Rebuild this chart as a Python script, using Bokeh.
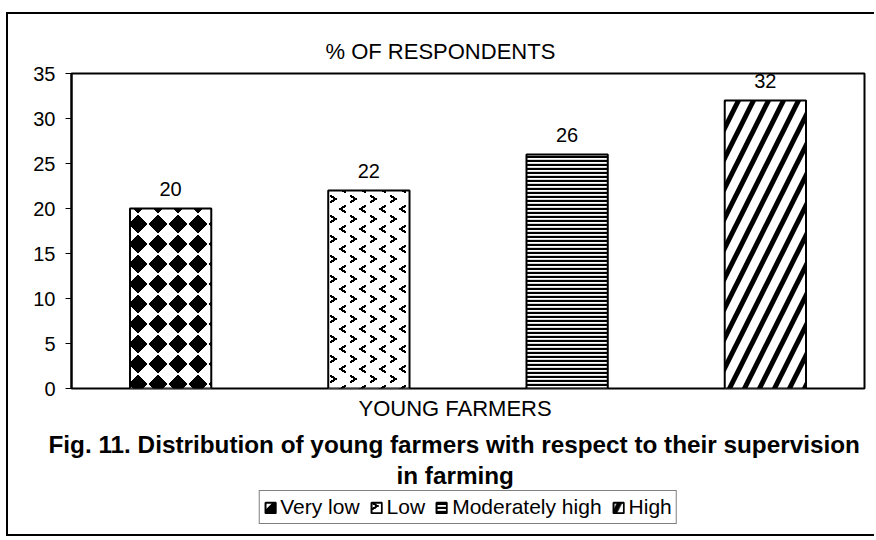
import struct, zlib, base64
from bokeh.plotting import figure
from bokeh.layouts import column
from bokeh.models import (ColumnDataSource, FactorRange, Range1d, Title, Legend,
                          LegendItem, LabelSet, ImageURLTexture, FixedTicker)
from bokeh.embed import file_html
from bokeh.resources import INLINE
from bokeh.core.properties import value

# ---- data ----
categories = ["Very low", "Low", "Moderately high", "High"]
percent = [20, 22, 26, 32]
value_labels = ["20", "22", "26", "32"]
y_ticks = [0, 5, 10, 15, 20, 25, 30, 35]

title_text = "% OF RESPONDENTS"
x_title = "YOUNG FARMERS"
caption1 = "Fig. 11. Distribution of young farmers with respect to their supervision"
caption2 = "in farming"

# ---- fill pattern tiles (style only) ----
def png_uri(size, is_black):
    raw = b""
    for y in range(size):
        row = b"\x00"
        for x in range(size):
            row += bytes((0, 0, 0, 255)) if is_black(x + 0.5, y + 0.5) else bytes((255, 255, 255, 255))
        raw += row
    def chunk(tag, data):
        return (struct.pack(">I", len(data)) + tag + data +
                struct.pack(">I", zlib.crc32(tag + data) & 0xffffffff))
    png = (b"\x89PNG\r\n\x1a\n" +
           chunk(b"IHDR", struct.pack(">IIBBBBB", size, size, 8, 6, 0, 0, 0)) +
           chunk(b"IDAT", zlib.compress(raw)) + chunk(b"IEND", b""))
    return "data:image/png;base64," + base64.b64encode(png).decode()

def seg_dist(px, py, ax, ay, bx, by):
    dx, dy = bx - ax, by - ay
    t = max(0.0, min(1.0, ((px - ax) * dx + (py - ay) * dy) / (dx * dx + dy * dy)))
    qx, qy = ax + t * dx, ay + t * dy
    return ((px - qx) ** 2 + (py - qy) ** 2) ** 0.5

def diamond(x, y):
    return abs(x - 10) + abs(y - 10) <= 9.4

def chevrons(x, y):
    segs = [(3, 2, 7.5, 5), (7.5, 5, 3, 8),          # ">"
            (17, 12, 12.5, 15), (12.5, 15, 17, 18)]  # "<"
    return any(seg_dist(x, y, *s) <= 1.15 for s in segs)

tex_diamond = ImageURLTexture(url=png_uri(20, diamond))
tex_chevron = ImageURLTexture(url=png_uri(20, chevrons))

patterns = ["diamond_check", "chevrons", "horizontal_line", "right_diagonal_line"]
pat_scales = [20, 20, 4, 30]
pat_weights = [1, 1, 2.3, 5]

src = ColumnDataSource(dict(x=categories, top=percent, label=value_labels,
                            pattern=patterns, hscale=pat_scales, hweight=pat_weights))

FONT = "Liberation Sans"
bar_style = dict(fill_color="white", line_color="black", line_width=2,
                 hatch_pattern="pattern", hatch_scale="hscale", hatch_weight="hweight",
                 hatch_color="black",
                 hatch_extra={"diamond_check": tex_diamond, "chevrons": tex_chevron})

W = 866

# ---- main chart ----
p = figure(x_range=FactorRange(*categories), y_range=Range1d(0, 35),
           width=W, height=476, output_backend="svg", toolbar_location=None,
           min_border_left=63, min_border_right=10, min_border_top=59,
           min_border_bottom=102)

p.outline_line_color = "black"
p.outline_line_width = 2
p.xgrid.visible = False
p.ygrid.visible = False
p.xaxis.visible = False

yax = p.yaxis[0]
yax.ticker = FixedTicker(ticks=y_ticks)
yax.major_label_text_font = FONT
yax.major_label_text_font_size = "20px"
yax.major_label_text_color = "black"
yax.axis_line_color = "black"
yax.axis_line_width = 2
yax.major_tick_line_color = "black"
yax.major_tick_line_width = 1
yax.major_tick_out = 6
yax.major_tick_in = 0
yax.minor_tick_line_color = None
yax.major_label_standoff = 10

p.vbar(x="x", top="top", width=0.41, source=src, **bar_style)

labels = LabelSet(x="x", y="top", text="label", source=src,
                  text_align="center", text_baseline="bottom", y_offset=13,
                  text_font=value(FONT), text_font_size=value("20px"),
                  text_color="black")
p.add_layout(labels)

p.add_layout(Title(text=title_text, align="left", offset=254,
                   text_font=FONT, text_font_size="22px", text_color="black",
                   text_font_style="normal", standoff=19), "above")

p.add_layout(Title(text=x_title, align="left", offset=287,
                   text_font=FONT, text_font_size="22px", text_color="black",
                   text_font_style="normal", standoff=11), "below")
p.add_layout(Title(text=caption1, align="left", offset=-23,
                   text_font=FONT, text_font_size="24.3px", text_color="black",
                   text_font_style="bold", standoff=4), "below")
p.add_layout(Title(text=caption2, align="left", offset=325,
                   text_font=FONT, text_font_size="24.3px", text_color="black",
                   text_font_style="bold", standoff=0), "below")

# ---- legend strip (same bars as rect glyphs, kept outside its visible range) ----
p2 = figure(x_range=p.x_range, y_range=Range1d(1000, 1001),
            width=W, height=44, output_backend="svg", toolbar_location=None,
            min_border_left=0, min_border_right=0, min_border_top=0,
            min_border_bottom=0)
p2.axis.visible = False
p2.grid.visible = False
p2.outline_line_color = None
r2 = p2.rect(x="x", y="top", width=0.41, height="top", source=src, **bar_style)

legend = Legend(items=[LegendItem(label=c, renderers=[r2], index=i)
                       for i, c in enumerate(categories)],
                orientation="horizontal", location="top_center",
                label_text_font=FONT, label_text_font_size="21px",
                label_text_color="black",
                glyph_width=13, glyph_height=13, label_standoff=4,
                spacing=10, padding=4, margin=0,
                border_line_color="black", border_line_width=1,
                background_fill_color="white", background_fill_alpha=1)
p2.add_layout(legend, "center")

layout = column(p, p2, spacing=0,
                styles={"border-left": "2px solid black", "border-top": "2px solid black",
                        "border-bottom": "2px solid black",
                        "margin-left": "6px", "margin-top": "12px"})

open("out.html", "w").write(file_html(layout, INLINE))
